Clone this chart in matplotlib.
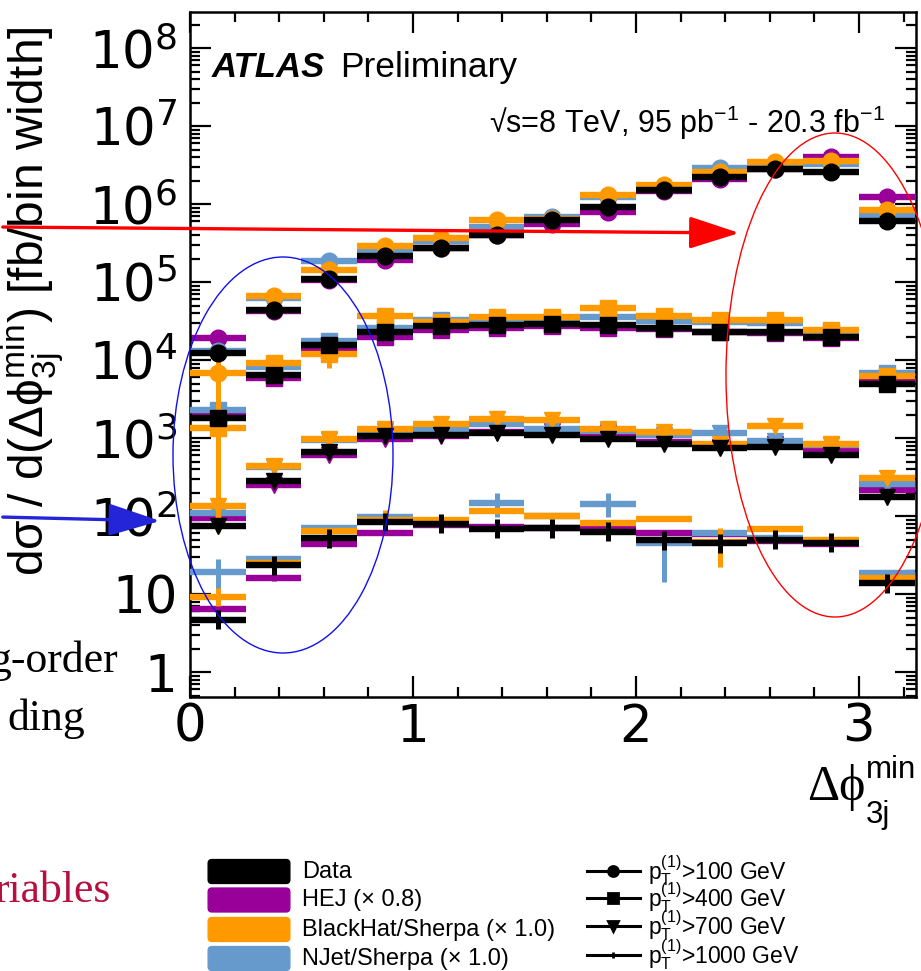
import numpy as np
import matplotlib
matplotlib.use("Agg")
import matplotlib.pyplot as plt
from matplotlib.patches import Ellipse, FancyBboxPatch, FancyArrowPatch
from matplotlib.lines import Line2D
from matplotlib.ticker import FixedLocator, LogLocator, NullFormatter, MultipleLocator

plt.rcParams['font.family'] = ['Liberation Sans', 'DejaVu Sans']
plt.rcParams['mathtext.fontset'] = 'custom'
plt.rcParams['mathtext.rm'] = 'Liberation Sans'
plt.rcParams['mathtext.it'] = 'Liberation Sans:italic'
plt.rcParams['mathtext.bf'] = 'Liberation Sans:bold'

W, H = 921, 971

# bins of dphi_3j^min
bin_edges = np.arange(0, 3.26, 0.25)

# pT(1) > 100 GeV (circles)
data_100 = [1.23e4, 4.35e4, 1.11e5, 2.14e5, 2.73e5, 4.05e5, 6.3e5, 9.1e5, 1.53e6, 2.2e6, 2.8e6, 2.6e6, 6.0e5]
hej_100 = [1.9e4, 4.2e4, 1.05e5, 1.9e5, 2.7e5, 4.0e5, 5.6e5, 7.9e5, 1.45e6, 2.1e6, 2.8e6, 4.0e6, 1.23e6]
bh_100 = [6.8e3, 6.6e4, 1.45e5, 2.9e5, 3.67e5, 6.3e5, 6.5e5, 1.29e6, 1.74e6, 2.6e6, 3.5e6, 3.6e6, 8.5e5]
nj_100 = [1.3e4, 6.3e4, 1.85e5, 2.5e5, 3.4e5, 5.1e5, 6.9e5, 1.25e6, 1.7e6, 2.9e6, 3.3e6, 3.3e6, 7.2e5]

# pT(1) > 400 GeV (squares)
data_400 = [1.83e3, 6.4e3, 1.55e4, 2.3e4, 2.7e4, 2.85e4, 2.9e4, 2.8e4, 2.6e4, 2.3e4, 2.3e4, 1.95e4, 4.9e3]
hej_400 = [2.0e3, 5.9e3, 1.33e4, 2.0e4, 2.4e4, 2.6e4, 2.7e4, 2.6e4, 2.5e4, 2.3e4, 2.25e4, 1.9e4, 5.6e3]
bh_400 = [1.34e3, 9.2e3, 1.2e4, 3.7e4, 3.1e4, 3.6e4, 3.6e4, 4.6e4, 3.7e4, 3.3e4, 3.3e4, 2.4e4, 6.3e3]
nj_400 = [2.3e3, 8.1e3, 1.78e4, 2.6e4, 3.3e4, 3.2e4, 3.3e4, 3.6e4, 3.2e4, 3.1e4, 3.0e4, 2.3e4, 6.8e3]

# pT(1) > 700 GeV (down triangles)
data_700 = [75, 282, 664, 1.05e3, 1.1e3, 1.15e3, 1.1e3, 980, 830, 750, 760, 600, 177]
hej_700 = [94, 250, 600, 966, 1.05e3, 1.2e3, 1.25e3, 1.15e3, 890, 780, 850, 700, 215]
bh_700 = [134, 436, 960, 1.3e3, 1.5e3, 1.78e3, 1.7e3, 1.32e3, 1.2e3, 850, 1.45e3, 830, 310]
nj_700 = [109, 420, 940, 1.23e3, 1.32e3, 1.5e3, 1.3e3, 1.22e3, 1.1e3, 1.15e3, 920, 810, 257]

# pT(1) > 1000 GeV (plus)
data_1000 = [4.7, 23.5, 52, 84, 80, 69, 70, 63, 49, 44.6, 50, 45.5, 13.7]
hej_1000 = [6.5, 15.9, 43.6, 61, 77, 72, 70, 68, 60, 59, 48, 44, 15]
bh_1000 = [9.1, 25, 65, 88, 90, 116, 101, 82, 93, 47, 69, 49, 16]
nj_1000 = [19.3, 28, 71, 98, 85, 148, 100, 145, 45, 60, 52, 46, 18.4]

# visible (large) uncertainty ranges: (model, cut) -> {bin index: (low, high)}
big_errors = {
    ("bh", 100): {0: (1.5e3, 1.0e4)},
    ("bh", 400): {0: (110, 2.0e3), 2: (7.9e3, 1.4e4)},
    ("bh", 700): {0: (62, 160)},
    ("bh", 1000): {0: (7.0, 12.0), 3: (65, 120), 9: (22.3, 70)},
    ("nj", 1000): {0: (10.3, 28), 5: (98, 196), 7: (98, 196), 8: (14.4, 63)},
}

models = ["hej", "nj", "bh", "data"]
model_colors = {"data": "black", "hej": "#990099", "bh": "#FF9900", "nj": "#6699CC"}
model_labels = ["Data", "HEJ (\u00d7 0.8)", "BlackHat/Sherpa (\u00d7 1.0)", "NJet/Sherpa (\u00d7 1.0)"]
cuts = [100, 400, 700, 1000]
cut_markers = {100: ("o", 12), 400: ("s", 11), 700: ("v", 12), 1000: ("none", 0)}
values = {
    ("data", 100): data_100, ("hej", 100): hej_100, ("bh", 100): bh_100, ("nj", 100): nj_100,
    ("data", 400): data_400, ("hej", 400): hej_400, ("bh", 400): bh_400, ("nj", 400): nj_400,
    ("data", 700): data_700, ("hej", 700): hej_700, ("bh", 700): bh_700, ("nj", 700): nj_700,
    ("data", 1000): data_1000, ("hej", 1000): hej_1000, ("bh", 1000): bh_1000, ("nj", 1000): nj_1000,
}


def fx(x):
    return x / W


def fy(y):
    return 1 - y / H


fig = plt.figure(figsize=(W / 100, H / 100), dpi=100)
ax = fig.add_axes([fx(190), fy(697), (916 - 190) / W, (697 - 12) / H])

lo_edges = bin_edges[:-1]
hi_edges = bin_edges[1:]
centers = 0.5 * (lo_edges + hi_edges)

for z, m in enumerate(models):
    c = model_colors[m]
    for cut in cuts:
        y = np.array(values[(m, cut)])
        if m == "data" and cut == 1000:
            rel = 0.12
        else:
            rel = 0.03
        lo = y * 10 ** (-rel)
        hi = y * 10 ** rel
        for i, (l, h) in big_errors.get((m, cut), {}).items():
            lo[i], hi[i] = l, h
        ax.hlines(y, lo_edges, hi_edges, colors=c, lw=4.6, zorder=2 + z, capstyle="butt")
        ax.vlines(centers, lo, hi, colors=c, lw=3.6, zorder=2 + z)
        mk, ms = cut_markers[cut]
        if mk != "none":
            ax.plot(centers, y, ls="none", marker=mk, ms=ms, color=c, mec=c, zorder=2 + z)

ax.set_yscale("log")
ax.set_xlim(0, 3.256)
ax.set_ylim(0.48, 2.9e8)

ytick_vals = [1, 10, 1e2, 1e3, 1e4, 1e5, 1e6, 1e7, 1e8]
ytick_labels = ["1", "10"] + [r"$\mathregular{10^{%d}}$" % k for k in range(2, 9)]
ax.yaxis.set_major_locator(FixedLocator(ytick_vals))
ax.set_yticklabels(ytick_labels, fontfamily="DejaVu Sans", math_fontfamily="dejavusans")
ax.yaxis.set_minor_locator(LogLocator(base=10, subs=np.arange(2, 10), numticks=100))
ax.yaxis.set_minor_formatter(NullFormatter())
ax.xaxis.set_major_locator(MultipleLocator(1))
ax.xaxis.set_minor_locator(MultipleLocator(0.2))
for t in ax.get_xticklabels():
    t.set_fontfamily("DejaVu Sans")

ax.tick_params(which="both", direction="in", top=True, right=True, width=1.6, labelsize=37)
ax.tick_params(which="major", length=15)
ax.tick_params(which="minor", length=7)
ax.tick_params(axis="y", pad=9)
ax.tick_params(axis="x", pad=4)
for s in ax.spines.values():
    s.set_linewidth(1.8)

# axis titles
fig.text(fx(33), fy(301),
         r"d$\mathregular{\sigma}$ / d($\mathregular{\Delta\phi^{min}_{3j}}$) [fb/bin width]",
         rotation=90, ha="center", va="center", fontsize=34.5)
fig.text(fx(865), fy(800), "\u0394\u03d5", ha="right", va="baseline", fontsize=36,
         family=["Liberation Serif", "DejaVu Serif"])
fig.text(fx(866), fy(778), "min", ha="left", va="baseline", fontsize=22.5)
fig.text(fx(866), fy(823), "3j", ha="left", va="baseline", fontsize=22.5)

fig.text(fx(212), fy(77), "ATLAS", fontsize=25, fontweight="bold", fontstyle="italic", va="baseline")
fig.text(fx(340), fy(77), "Preliminary", fontsize=25.5, va="baseline")
fig.text(fx(885), fy(133), "\u221as=8 TeV, 95 pb$^{-1}$ - 20.3 fb$^{-1}$", fontsize=22, ha="right", va="baseline")

# slide annotations on top of the plot
fig.add_artist(Ellipse((fx(283), fy(455)), 220 / W, 396 / H, transform=fig.transFigure,
                       fill=False, ec="#1010EE", lw=1.0, zorder=20))
fig.add_artist(Ellipse((fx(835), fy(375)), 218 / W, 484 / H, transform=fig.transFigure,
                       fill=False, ec="#FF0000", lw=1.0, zorder=20))
fig.add_artist(FancyArrowPatch((fx(0), fy(227)), (fx(742), fy(233)), transform=fig.transFigure,
                               arrowstyle="-|>,head_length=31,head_width=10", mutation_scale=1,
                               color="#FF0000", lw=2.4, zorder=21))
fig.add_artist(FancyArrowPatch((fx(0), fy(517)), (fx(163), fy(521)), transform=fig.transFigure,
                               arrowstyle="-|>,head_length=32,head_width=10", mutation_scale=1,
                               color="#2424D8", lw=2.4, zorder=21))

# text fragments of the slide
fig.text(fx(118), fy(672), "g-order", fontsize=31.5, family="Liberation Serif", ha="right", va="baseline")
fig.text(fx(85), fy(730), "ding", fontsize=31.5, family="Liberation Serif", ha="right", va="baseline")
fig.text(fx(110), fy(902), "riables", fontsize=31.5, family="Liberation Serif", color="#B5103F",
         ha="right", va="baseline")

# legend: models
box_y = [871.5, 900, 929.5, 958.5]
for lab, m, yy in zip(model_labels, ["data", "hej", "bh", "nj"], box_y):
    fig.add_artist(FancyBboxPatch((fx(210), fy(yy + 10)), 78 / W, 20 / H,
                                  boxstyle="round,pad=0.002,rounding_size=0.004",
                                  transform=fig.transFigure, fc=model_colors[m], ec=model_colors[m]))
    fig.text(fx(302), fy(yy), lab, fontsize=17, va="center")

# legend: pT cuts
cut_y = [871, 898, 926, 955]
for cut, yy in zip(cuts, cut_y):
    fig.add_artist(Line2D([fx(587), fx(640)], [fy(yy), fy(yy)], transform=fig.transFigure,
                          color="black", lw=2.2))
    mk, ms = cut_markers[cut]
    if mk == "none":
        mk, ms = "|", 7
    fig.add_artist(Line2D([fx(613)], [fy(yy)], transform=fig.transFigure, ls="none",
                          marker=mk, ms=ms * 0.6, color="black", mew=2))
    fig.text(fx(648), fy(yy), r"p$_{\mathregular{T}}^{\mathregular{(1)}}$>%d GeV" % cut, fontsize=16.5, va="center")

fig.savefig("out.png", dpi=100, facecolor="white")
